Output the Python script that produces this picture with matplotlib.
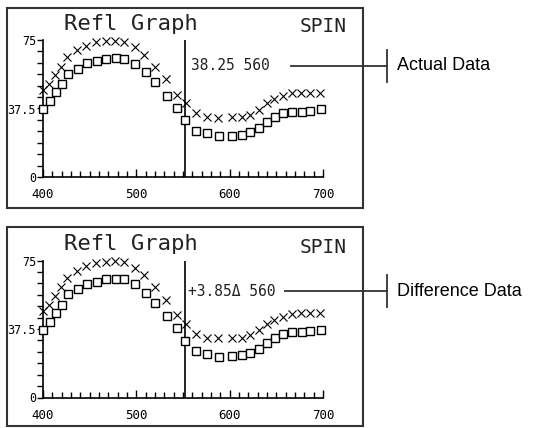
import matplotlib
matplotlib.use("Agg")
import matplotlib.pyplot as plt
from matplotlib.patches import Rectangle
from matplotlib.lines import Line2D

# wavelengths (nm) and readings
wl_sq = [400, 408, 414, 420, 427, 437, 447, 458, 468, 478, 487, 499, 510, 520, 533, 544,
         552, 564, 576, 589, 603, 613, 622, 631, 640, 649, 657, 667, 677, 686, 698]
refl_sq = [37.2, 41.6, 46.4, 50.9, 56.4, 59.3, 62.2, 63.3, 64.8, 65.0, 64.6, 61.9, 57.3, 52.0,
           44.5, 37.9, 31.2, 25.4, 23.9, 22.4, 22.6, 23.0, 24.6, 26.8, 30.1, 32.7, 34.9,
           35.6, 35.8, 36.3, 37.0]
wl_x = [400, 406, 413, 419, 426, 436, 446, 457, 467, 477, 487, 499, 508, 520, 532, 544,
        553, 564, 576, 588, 603, 613, 622, 631, 640, 648, 657, 667, 676, 686, 697]
refl_x = [47.6, 50.7, 55.8, 60.4, 65.5, 69.5, 71.9, 73.7, 74.3, 74.6, 74.1, 71.0, 66.8, 60.4,
          53.6, 44.9, 40.3, 34.9, 32.7, 32.5, 32.7, 32.7, 34.1, 36.8, 40.3, 42.5, 44.3,
          45.8, 46.2, 46.2, 46.2]

cursor_wl = 552
panel_titles = ["Refl Graph", "Refl Graph"]
cursor_texts = ["38.25 560", "+3.85\u0394 560"]
callouts = ["Actual Data", "Difference Data"]

W, H = 554, 428
fig = plt.figure(figsize=(W / 100, H / 100), dpi=100)
mono = "DejaVu Sans Mono"
dark = "#333333"

def fx(px):
    return px / W

def fy(py):
    return 1 - py / H

# pixel layout of the two screens: (frame top, frame bottom, y offset)
screens = [(8, 208, 0), (227, 426, 220.5)]
for k, (top, bot, off) in enumerate(screens):
    # screen frame
    fig.patches.append(Rectangle((fx(7), fy(bot)), fx(356), (bot - top) / H,
                                 transform=fig.transFigure, fill=False,
                                 edgecolor=dark, lw=1.5))
    ax = fig.add_axes([fx(43), fy(177 + off), fx(280), 137 / H])
    ax.set_xlim(400, 700)
    ax.set_ylim(0, 75)
    ax.patch.set_alpha(0)
    for s in ["top", "right"]:
        ax.spines[s].set_visible(False)
    ax.spines["left"].set_linewidth(1.2)
    ax.spines["bottom"].set_linewidth(1.2)

    ax.plot(wl_sq, refl_sq, ls="none", marker="s", ms=5.5, mfc="white", mec="black",
            mew=1.0, clip_on=False, zorder=3)
    ax.plot(wl_x, refl_x, ls="none", marker="x", ms=5.5, color="black", mew=0.8,
            clip_on=False, zorder=4)
    ax.plot([cursor_wl, cursor_wl], [0, 75], color="black", lw=1.2, zorder=2)

    ax.set_xticks([400, 500, 600, 700])
    ax.set_xticklabels(["400", "500", "600", "700"], fontfamily=mono, fontsize=9)
    ax.set_xticks(range(400, 701, 10), minor=True)
    ax.tick_params(axis="x", which="major", direction="in", length=6, width=1, pad=8)
    ax.tick_params(axis="x", which="minor", direction="in", length=4, width=1)
    ax.set_yticks([0, 37.5, 75])
    ax.set_yticklabels(["0", "37.5", "75"], fontfamily=mono, fontsize=8.5)
    ax.set_yticks([i * 6.25 for i in range(13)], minor=True)
    ax.tick_params(axis="y", which="both", direction="out", length=4, width=1, pad=1)

    fig.text(fx(64), fy(24 + off), panel_titles[k], fontfamily=mono, fontsize=16,
             va="center", ha="left", color="#222222")
    fig.text(fx(300), fy(27 + off), "SPIN", fontfamily=mono, fontsize=14,
             va="center", ha="left", color="#222222")

    ly = 66 if k == 0 else 291
    fig.text(fx(191 if k == 0 else 188), fy(ly), cursor_texts[k], fontfamily=mono,
             fontsize=10.5, va="center", ha="left", color="#222222")
    fig.lines.append(Line2D([fx(291 if k == 0 else 285), fx(387)], [fy(ly), fy(ly)],
                            transform=fig.transFigure, color=dark, lw=1.3))
    fig.lines.append(Line2D([fx(387), fx(387)], [fy(ly - 16), fy(ly + 16)],
                            transform=fig.transFigure, color=dark, lw=1.3))
    fig.text(fx(397), fy(ly), callouts[k], fontfamily="Liberation Sans", fontsize=13,
             va="center", ha="left", color="black")

fig.savefig("out.png", dpi=100)
